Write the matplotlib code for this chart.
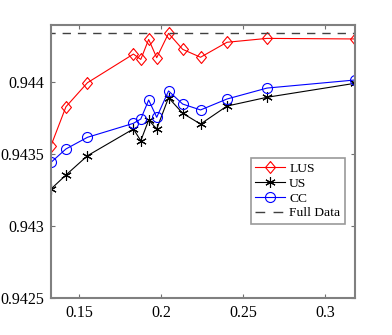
import numpy as np
import matplotlib.pyplot as plt

x = [0.1329, 0.1420, 0.1551, 0.1831, 0.1876, 0.1924, 0.1973, 0.2045,
     0.2131, 0.2240, 0.2401, 0.2645, 0.3180]
lus = [0.943558, 0.943828, 0.943995, 0.944194, 0.944157, 0.944296, 0.944169,
       0.944338, 0.944227, 0.944172, 0.944276, 0.944303, 0.944299]
us = [0.943257, 0.943354, 0.943488, 0.943674, 0.943592, 0.943736, 0.943674,
      0.943891, 0.943783, 0.943708, 0.943833, 0.943894, 0.943991]
cc = [0.943442, 0.943535, 0.943616, 0.943713, 0.943743, 0.943875, 0.943755,
      0.943938, 0.943847, 0.943806, 0.943882, 0.943958, 0.944014]
full_data = 0.944340

xticks = [0.15, 0.2, 0.25, 0.3]
xticklabels = ["0.15", "0.2", "0.25", "0.3"]
yticks = [0.9425, 0.943, 0.9435, 0.944]
yticklabels = ["0.9425", "0.943", "0.9435", "0.944"]

plt.rcParams['font.family'] = ['Liberation Serif', 'DejaVu Serif']

# matlab style diamond, a bit taller than wide
diamond = [(0, 1), (0.83, 0), (0, -1), (-0.83, 0), (0, 1)]

fig = plt.figure(figsize=(3.92, 3.35), dpi=100)
ax = fig.add_axes([51 / 392, 1 - 298 / 335, 304 / 392, 273 / 335])

ax.plot(x, lus, color="red", lw=0.8, marker=diamond, ms=8.6, mfc="none",
        mec="red", mew=0.8, label="LUS")
ax.plot(x, us, color="black", lw=0.8, marker=(6, 2, 0), ms=7.5,
        mec="black", mew=0.8, label="US")
ax.plot(x, cc, color="blue", lw=0.8, marker="o", ms=7.2, mfc="none",
        mec="blue", mew=0.8, label="CC")
ax.axhline(full_data, color="#404040", lw=1.0, ls=(3, (6, 5)))
# legend entry for the dashed line: two dashes like the original
ax.plot([], [], color="#404040", lw=1.0, ls=(0, (7, 6)), label="Full Data")

ax.set_xlim(0.1329, 0.3181)
ax.set_ylim(0.9425, 0.944396)
ax.set_xticks(xticks)
ax.set_xticklabels(xticklabels)
ax.set_yticks(yticks)
ax.set_yticklabels(yticklabels)
ax.tick_params(direction="in", length=3, width=0.8, color="#707070",
               labelsize=11.5, top=True, right=True, pad=5)
for s in ax.spines.values():
    s.set_color("#808080")
    s.set_linewidth(1.5)

leg = ax.legend(loc="lower right", bbox_to_anchor=(345 / 392, 1 - 224 / 335),
                bbox_transform=fig.transFigure, fontsize=9.7, frameon=True,
                fancybox=False, edgecolor="#808080", handlelength=2.2,
                handletextpad=0.3, borderpad=0.35, labelspacing=0.17,
                borderaxespad=0)
leg.get_frame().set_linewidth(1.2)

fig.savefig("out.png", dpi=100)
